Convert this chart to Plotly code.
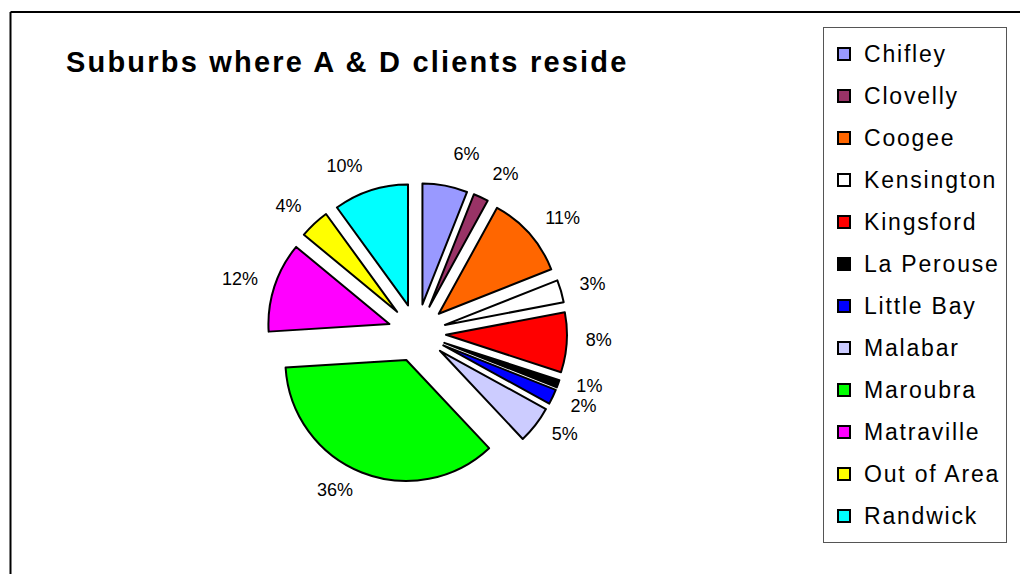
import plotly.graph_objects as go

suburbs = ["Chifley", "Clovelly", "Coogee", "Kensington", "Kingsford", "La Perouse",
           "Little Bay", "Malabar", "Maroubra", "Matraville", "Out of Area", "Randwick"]
percent = [6, 2, 11, 3, 8, 1, 2, 5, 36, 12, 4, 10]
colors = ["#9999FF", "#993366", "#FF6600", "#FFFFFF", "#FF0000", "#000000",
          "#0000FF", "#CCCCFF", "#00FF00", "#FF00FF", "#FFFF00", "#00FFFF"]

W, H = 1020, 574
FONT = "Liberation Sans, Arial, sans-serif"
CX, CY = 417, 333          # pie centre (px)
R_PIE = 150                # half size of pie domain (px), incl. pull
TX, TY = 418, 330          # label ring centre (px)
R_TXT = 163                # half size of label ring domain (px)

legend_labels = [
    "<span style='font-size:23px;letter-spacing:1.8px;baseline-shift:4px'>%s</span>" % s
    for s in suburbs
]

fig = go.Figure()
# exploded pie
fig.add_trace(go.Pie(
    labels=legend_labels,
    values=percent,
    sort=False,
    direction="clockwise",
    rotation=0,
    pull=[0.24] * len(percent),
    marker=dict(colors=colors, line=dict(color="black", width=2)),
    textinfo="none",
    domain=dict(x=[(CX - R_PIE) / W, (CX + R_PIE) / W],
                y=[1 - (CY + R_PIE) / H, 1 - (CY - R_PIE) / H]),
    hoverinfo="skip",
))
# percentage labels (same data, transparent ring, labels outside it)
fig.add_trace(go.Pie(
    labels=suburbs,
    values=percent,
    sort=False,
    direction="clockwise",
    rotation=0,
    showlegend=False,
    marker=dict(colors=["rgba(255,255,255,0)"] * len(percent),
                line=dict(color="rgba(255,255,255,0)", width=0)),
    texttemplate="<span style='color:black;fill-opacity:1'>%{percent:.0%}</span>",
    textposition="outside",
    outsidetextfont=dict(family=FONT, size=18, color="rgba(255,255,255,0)"),
    domain=dict(x=[(TX - R_TXT) / W, (TX + R_TXT) / W],
                y=[1 - (TY + R_TXT) / H, 1 - (TY - R_TXT) / H]),
    hoverinfo="skip",
))

fig.update_layout(
    width=W, height=H,
    margin=dict(l=0, r=0, t=0, b=0),
    paper_bgcolor="white",
    plot_bgcolor="white",
    font=dict(family=FONT, color="black"),
    title=dict(
        text="<b><span style='letter-spacing:2.2px'>Suburbs where A & D clients reside</span></b>",
        x=66 / W, xanchor="left",
        y=1 - 62 / H, yanchor="middle",
        font=dict(family=FONT, size=29, color="black"),
    ),
    showlegend=True,
    legend=dict(
        x=823 / W, xanchor="left",
        y=1 - 27 / H, yanchor="top",
        bordercolor="#555555", borderwidth=1,
        bgcolor="white",
        font=dict(family=FONT, size=30, color="black"),
        traceorder="normal",
    ),
    shapes=[
        dict(type="line", xref="paper", yref="paper",
             x0=10.5 / W, x1=1.02, y0=1 - 12 / H, y1=1 - 12 / H,
             line=dict(color="black", width=2)),
        dict(type="line", xref="paper", yref="paper",
             x0=10.5 / W, x1=10.5 / W, y0=1 - 12 / H, y1=-0.02,
             line=dict(color="black", width=2)),
    ],
)

fig.write_html("out.html")
